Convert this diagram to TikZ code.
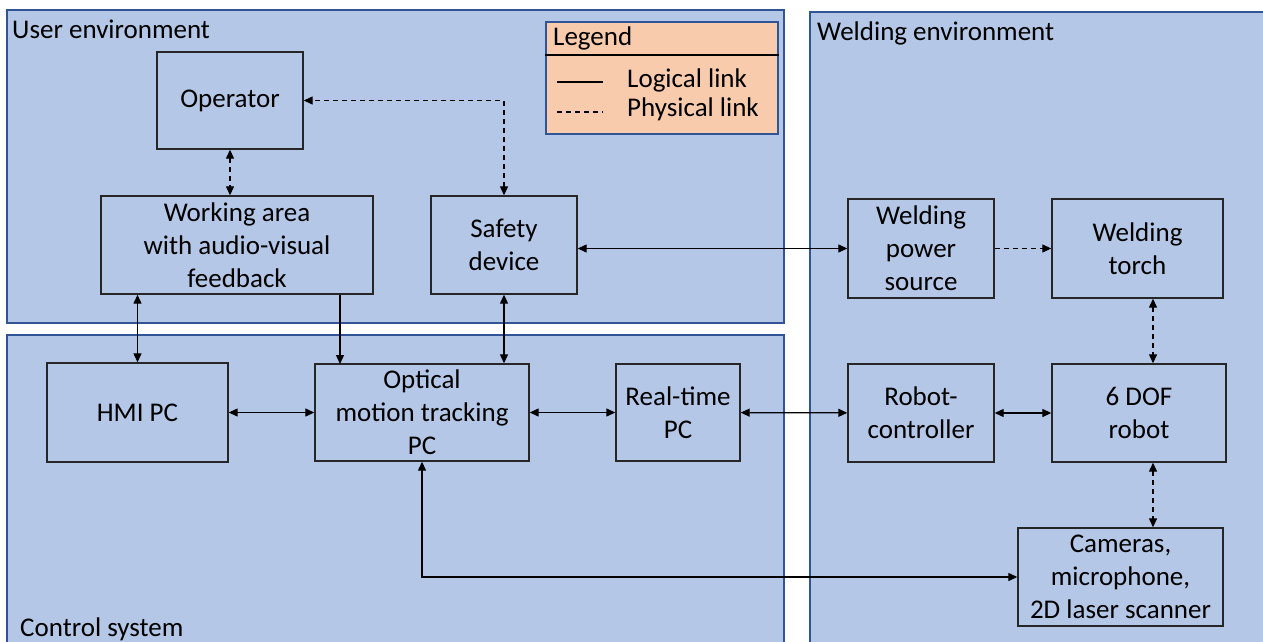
\documentclass[tikz,border=0pt]{standalone}
\usepackage{fontspec}
\setmainfont{Carlito}
\usepackage{tikz}
\usetikzlibrary{positioning,calc,arrows.meta}
\definecolor{zonefill}{RGB}{180,199,231}
\definecolor{zoneline}{RGB}{47,85,151}
\definecolor{legendfill}{RGB}{248,203,173}

\begin{document}
\begin{tikzpicture}[
    x=1pt, y=-1pt,
    zone/.style={draw=zoneline, line width=1.4pt, fill=zonefill},
    blk/.style={rectangle, draw=black!85, line width=1.4pt, align=center, inner sep=0pt, font=\fontsize{27}{33}\selectfont},
    lbl/.style={font=\fontsize{27}{33}\selectfont, inner sep=0pt},
    phys/.style={dash pattern=on 5pt off 4pt},
    arr/.style={-{Triangle[length=9pt,width=8pt]}, line width=1.3pt},
    arrb/.style={{Triangle[length=9pt,width=8pt]}-{Triangle[length=9pt,width=8pt]}, line width=1.3pt}
]
    \useasboundingbox (0,0) rectangle (1263,642);
    \clip (0,0) rectangle (1263,642);

    % environments
    \draw[zone] (7,10) rectangle (784,323);
    \draw[zone] (7,335) rectangle (784,660);
    \draw[zone] (810,12) rectangle (1280,660);
    \node[lbl, anchor=base west] (uenv) at (12,39) {User environment};
    \node[lbl, anchor=base west] (wenv) at (817,41) {Welding environment};
    \node[lbl, anchor=base west] (csys) at (20,636) {Control system};

    % legend
    \node[draw=zoneline, line width=1.2pt, fill=legendfill, minimum width=232pt, minimum height=112pt, inner sep=0pt] (lgd) at (662,78) {};
    \draw[line width=1.2pt] (lgd.west |- 0,55) -- (lgd.east |- 0,55);
    \node[lbl, anchor=base west] (lgdhead) at (553,46) {Legend};
    \node[lbl, anchor=base west] (loglbl) at (627,88) {Logical link};
    \node[lbl, anchor=base west] (phylbl) at (627,116) {Physical link};
    \draw[line width=1.2pt] (557,82) -- (603,82);
    \draw[line width=1.2pt, phys] (557,112) -- (603,112);

    % user environment
    \node[blk, minimum width=146pt, minimum height=97pt] (op) at (230,100.5) {Operator};
    \node[blk, minimum width=272pt, minimum height=98pt] (work) at (237,245) {Working area\\with audio-visual\\feedback};
    \node[blk, minimum width=146pt, minimum height=98pt] (safe) at (504,245) {Safety\\device};

    % control system
    \node[blk, minimum width=181pt, minimum height=99pt] (hmi) at (137.5,412.5) {HMI PC};
    \node[blk, minimum width=214pt, minimum height=97pt] (opt) at (422,412.5) {Optical\\motion tracking\\PC};
    \node[blk, minimum width=124pt, minimum height=97pt] (rt) at (678,412.5) {Real-time\\PC};

    % welding environment
    \node[blk, minimum width=146pt, minimum height=99pt] (wps) at (921,248.5) {Welding\\power\\source};
    \node[blk, minimum width=171pt, minimum height=99pt] (torch) at (1137.5,248.5) {Welding\\torch};
    \node[blk, minimum width=146pt, minimum height=98pt] (rc) at (921,413) {Robot-\\controller};
    \node[blk, minimum width=174pt, minimum height=98pt] (dof) at (1139,413) {6 DOF\\robot};
    \node[blk, minimum width=205pt, minimum height=98pt] (cam) at (1120.5,577) {Cameras,\\microphone,\\2D laser scanner};

    \coordinate (wo) at (340,364);
    \coordinate (rx) at (1153,0);

    \draw[arrb, phys] (safe.north) |- (op.east);
    \draw[arrb, phys] (op.south) -- (op.south |- work.north);
    \draw[arrb] (hmi.north |- work.south) -- (hmi.north);
    \draw[arr] (wo |- work.south) -- (wo);
    \draw[arrb] (safe.south) -- (safe.south |- opt.north);
    \draw[arrb] (safe.east |- wps.west) -- (wps.west);
    \draw[arr, phys] (wps) -- (torch);
    \draw[arrb, phys] (rx |- torch.south) -- (rx |- dof.north);
    \draw[arrb, phys] (rx |- dof.south) -- (rx |- cam.north);
    \draw[arrb] (hmi) -- (opt);
    \draw[arrb] (opt) -- (rt);
    \draw[arrb] (rt) -- (rc);
    \draw[arrb] (rc) -- (dof);
    \draw[arrb] (opt.south) |- (cam.west);
\end{tikzpicture}
\end{document}
